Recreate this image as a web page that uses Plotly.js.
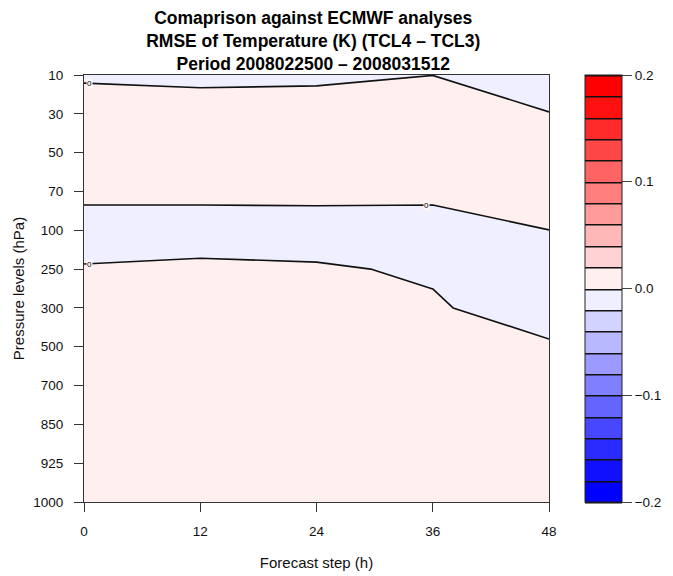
<!DOCTYPE html>
<html><head><meta charset="utf-8">
<script src="https://cdn.plot.ly/plotly-3.0.1.min.js"></script>
<style>body{margin:0;background:#fff}</style>
</head><body><div id="chart" style="width:673px;height:576px"></div>
<script>
// Forecast steps (h)
const steps = [0, 12, 24, 36, 48];
// Pressure levels (hPa), top to bottom
const levels = ['10','30','50','70','100','250','300','500','700','850','925','1000'];
// RMSE difference (TCL4 - TCL3), rows = levels, cols = steps
const rmseDiff = [
  [-0.0021, -0.0033, -0.0028, -0.0001, -0.0095],
  [ 0.0079,  0.0067,  0.0072,  0.0100,  0.0005],
  [ 0.0080,  0.0080,  0.0080,  0.0100,  0.0080],
  [ 0.0035,  0.0035,  0.0037,  0.0035,  0.0099],
  [-0.0065, -0.0065, -0.0063, -0.0065, -0.0001],
  [ 0.00097, 0.00253, 0.00138,-0.00158,-0.0060],
  [ 0.0050,  0.0050,  0.0050,  0.00151,-0.00713],
  [ 0.0060,  0.0060,  0.0060,  0.0060,  0.00178],
  [ 0.0060,  0.0060,  0.0060,  0.0060,  0.0060],
  [ 0.0060,  0.0060,  0.0060,  0.0060,  0.0060],
  [ 0.0060,  0.0060,  0.0060,  0.0060,  0.0060],
  [ 0.0060,  0.0060,  0.0060,  0.0060,  0.0060]
];
// Colour bands from -0.2 upward (step 0.02)
const bandColors = [
  '#0000FF','#1B1BFF','#3535FF','#5050FF','#6B6BFF','#8585FF','#A0A0FF','#BBBBFF','#D5D5FF','#F0F0FF',
  '#FFF0F0','#FFD5D5','#FFBBBB','#FFA0A0','#FF8585','#FF6B6B','#FF5050','#FF3535','#FF1B1B','#FF0000'
];
const cbTicks = [-0.2, -0.1, 0.0, 0.1, 0.2];
// contour labels: [column index, which zero crossing (0-based from top)]
const labelSpots = [[0, 0], [0, 2], [3, 1]];

const n = bandColors.length;
const colorscale = [[0, bandColors[0]]];
for (let j = 0; j < n; j++) colorscale.push([(j + 1) / (n + 1), bandColors[j]]);
colorscale.push([1, bandColors[n - 1]]);

const yIdx = levels.map((_, i) => i);

function zeroCrossings(col) {
  const out = [];
  for (let i = 0; i < rmseDiff.length - 1; i++) {
    const a = rmseDiff[i][col], b = rmseDiff[i + 1][col];
    if ((a < 0) !== (b < 0)) out.push(i + a / (a - b));
  }
  return out;
}

const FAM = 'Liberation Sans, Arial, Helvetica, sans-serif';

const annotations = labelSpots.map(([c, k]) => ({
  x: steps[c], y: zeroCrossings(c)[k], xref: 'x', yref: 'y',
  text: '0', showarrow: false, font: {family: FAM, size: 8, color: '#000'},
  xshift: c === 0 ? 5 : -6, bgcolor: 'rgba(255,246,246,1)', borderpad: 0
}));

const trace = {
  type: 'contour',
  x: steps, y: yIdx, z: rmseDiff,
  zmin: -0.2, zmax: 0.2,
  autocontour: false,
  contours: {start: -0.2, end: 0.2, size: 0.02, coloring: 'fill'},
  colorscale: colorscale,
  line: {color: '#111', width: 1.6, smoothing: 0},
  colorbar: {
    xref: 'container', x: 585 / 673, xanchor: 'left', xpad: 0,
    yref: 'paper', y: 0.5, yanchor: 'middle', ypad: 0,
    lenmode: 'fraction', len: 1,
    thickness: 37, outlinecolor: '#222', outlinewidth: 1,
    tickvals: cbTicks, ticktext: cbTicks.map(v => v.toFixed(1).replace('-', '\u2212')),
    ticks: 'outside', ticklen: 10, tickcolor: '#444', ticklabelstandoff: 6,
    tickfont: {family: FAM, size: 13.5, color: '#111'}
  },
  hoverinfo: 'skip'
};

const tickFont = {family: FAM, size: 13.5, color: '#111'};
const titleFont = {family: FAM, size: 15, color: '#111'};
const layout = {
  width: 673, height: 576,
  margin: {l: 84, r: 123.5, t: 75, b: 73.5},
  paper_bgcolor: '#fff', plot_bgcolor: '#fff',
  font: tickFont,
  title: {
    text: '<b>Comaprison against ECMWF analyses<br>RMSE of Temperature (K) (TCL4 \u2013 TCL3)<br>Period 2008022500 \u2013 2008031512</b>',
    xref: 'paper', x: 0.493, xanchor: 'center',
    yref: 'container', y: 1 - 24 / 576, yanchor: 'middle',
    font: {family: FAM, size: 17.5, color: '#000'}
  },
  xaxis: {
    range: [0, 48], tickvals: steps, ticktext: steps.map(String),
    ticks: 'outside', ticklen: 9, tickcolor: '#333', ticklabelstandoff: 8,
    tickfont: tickFont,
    showline: true, linecolor: '#333', linewidth: 1, mirror: true,
    showgrid: true, gridcolor: '#c8c8c8', griddash: 'dot', gridwidth: 1,
    zeroline: false,
    title: {text: 'Forecast step (h)', standoff: 19, font: titleFont}
  },
  yaxis: {
    range: [levels.length - 1, 0], tickvals: yIdx, ticktext: levels,
    ticks: 'outside', ticklen: 9, tickcolor: '#333', ticklabelstandoff: 8,
    tickfont: tickFont,
    showline: true, linecolor: '#333', linewidth: 1, mirror: true,
    showgrid: true, gridcolor: '#c8c8c8', griddash: 'dot', gridwidth: 1,
    zeroline: false,
    title: {text: 'Pressure levels (hPa)', standoff: 5, font: titleFont}
  },
  annotations: annotations
};

Plotly.newPlot('chart', [trace], layout, {staticPlot: true, displayModeBar: false});
</script>
</body></html>
